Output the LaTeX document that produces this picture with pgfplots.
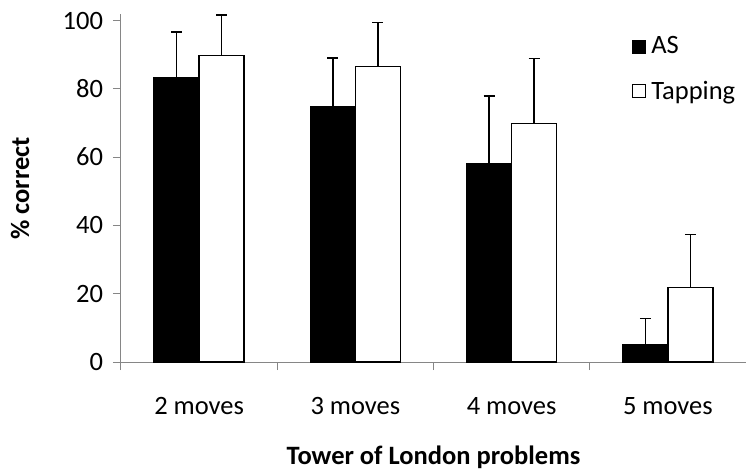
\documentclass[border=0pt]{standalone}
\usepackage{pgfplots}
\pgfplotsset{compat=1.18}
\usepackage{fontspec}
\setmainfont{Carlito}
\definecolor{axgray}{RGB}{134,134,134}
\newcommand{\chartfont}{\fontsize{26.5bp}{31bp}\selectfont}
\begin{document}
\chartfont
\begin{tikzpicture}
\useasboundingbox (-121bp,-110bp) rectangle (625bp,362bp);
\begin{axis}[
  at={(0,0)}, anchor=south west,
  scale only axis, width=625bp, height=347.6bp,
  xmin=-0.5, xmax=3.5, ymin=0, ymax=101.8,
  ybar=0pt, bar width=45bp,
  axis x line*=bottom, axis y line*=left,
  axis line style={-, draw=axgray, line width=1bp},
  tick style={draw=axgray, line width=1bp},
  tick align=outside,
  major tick length=8bp,
  xtick={-0.5,0.5,1.5,2.5,3.5},
  xticklabels={,,,,},
  extra x ticks={0,1,2,3},
  extra x tick labels={2 moves,3 moves,4 moves,5 moves},
  extra x tick style={major tick length=0pt, xticklabel style={anchor=base, yshift=-52bp}},
  ytick={0,20,40,60,80,100},
  yticklabel style={xshift=-1bp},
  /pgf/number format/assume math mode=true,
  tick label style={font=\chartfont},
  xlabel={Tower of London problems},
  ylabel={\% correct},
  xlabel style={at={(axis description cs:0.5,0)}, anchor=base, yshift=-102bp, font=\chartfont\bfseries},
  ylabel style={at={(axis description cs:-0.1616,0.5)}, anchor=center, font=\chartfont\bfseries},
  legend style={draw=none, fill=none, inner sep=0pt, at={(rel axis cs:0.8176,0.945)}, anchor=north west,
    row sep=17bp, font=\chartfont, nodes={inner sep=3bp}},
  legend cell align=left,
  legend image code/.code={\draw[#1, line width=1bp] (0bp,-6bp) rectangle (13bp,7bp); \path (15bp,0bp);},
  clip=false,
]
\addplot[fill=black, draw=black, line width=1.3bp,
  error bars/.cd, y dir=plus, y explicit,
  error bar style={line width=1.5bp, black},
  error mark options={line width=1.5bp, mark size=5.5bp, black, rotate=90}]
  table[x=x, y=y, y error=e] {
x y e
0 83.2 13.5
1 74.8 14.3
2 58.2 19.7
3 5.0 7.7
};
\addlegendentry{AS}
\addplot[fill=white, draw=black, line width=1.3bp,
  error bars/.cd, y dir=plus, y explicit,
  error bar style={line width=1.5bp, black},
  error mark options={line width=1.5bp, mark size=5.5bp, black, rotate=90}]
  table[x=x, y=y, y error=e] {
x y e
0 89.8 11.8
1 86.5 12.9
2 69.9 19.0
3 21.8 15.6
};
\addlegendentry{Tapping}
\end{axis}
\end{tikzpicture}
\end{document}
